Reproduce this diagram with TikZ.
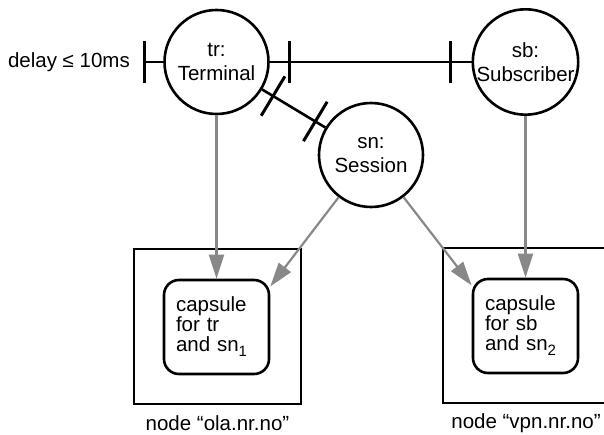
\documentclass[tikz,border=0pt]{standalone}
\usepackage{fontspec}
\setmainfont{Liberation Sans}
\usetikzlibrary{arrows.meta,calc}
\definecolor{deploygray}{HTML}{888888}
\newcommand{\lowsub}[1]{\raisebox{-5pt}{\fontsize{15}{15}\selectfont #1}}
\begin{document}
\begin{tikzpicture}[x=1pt,y=-1pt,
  every node/.style={font=\fontsize{20.5}{24}\selectfont},
  obj/.style={circle,draw,line width=2.6pt,minimum size=104pt,inner sep=0pt,align=center},
  capsulebox/.style={draw,line width=2.6pt,rounded corners=15pt,minimum width=105pt,minimum height=94pt,inner sep=0pt,text width=81pt,align=left,font=\fontsize{20.5}{20}\selectfont},
  hostbox/.style={draw,line width=2.8pt,inner sep=0pt},
  conn/.style={line width=2.6pt},
  tickmark/.style={line width=3pt},
  deploy/.style={draw=deploygray,line width=2.2pt,-{Triangle[length=24pt,width=15pt]}}
]
\useasboundingbox (0,0) rectangle (604,435);

% object circles
\node[obj] (tr) at (216.5,62) {tr:\\Terminal};
\node[obj] (sb) at (525.5,62) {sb:\\Subscriber};
\node[obj] (sn) at (371,155) {sn:\\Session};

% host nodes
\node[hostbox,minimum width=167pt,minimum height=155pt] (hostA) at (217.5,326.5) {};
\node (labA) at (217.5,423) {node “ola.nr.no”};
\coordinate (hostBtl) at (443,248);
\coordinate (hostBbr) at (608,403);
\draw[line width=2.8pt] (hostBbr |- hostBtl) -- (hostBtl) |- (hostBbr);
\node (labB) at (526,423) {node “vpn.nr.no”};

% capsules
\node[capsulebox] (cap1) at (216.5,327) {capsule\\for tr\\and sn\lowsub{1}};
\node[capsulebox] (cap2) at (525.5,326) {capsule\\for sb\\and sn\lowsub{2}};

% delay connector
\node[anchor=east,inner sep=0pt] (delay) at (130,62) {delay ≤ 10ms};
\coordinate (dend) at (144,62);
\draw[conn] (dend) -- (tr);
\draw[tickmark] ($(dend)+(0,-21)$) -- ($(dend)+(0,21)$);

% tr -- sb connector
\draw[conn] (tr) -- (sb);
\coordinate (t1) at ($(tr.east)+(20,0)$);
\coordinate (t2) at ($(sb.west)+(-21,0)$);
\draw[tickmark] ($(t1)+(0,-21)$) -- ($(t1)+(0,21)$);
\draw[tickmark] ($(t2)+(0,-21)$) -- ($(t2)+(0,21)$);

% tr -- sn connector
\draw[conn] (tr) -- (sn);
\coordinate (t3) at ($(tr)!66pt!(sn)$);
\coordinate (t4) at ($(sn)!65pt!(tr)$);
\draw[tickmark] ($(t3)!23pt!90:(sn)$) -- ($(t3)!23pt!-90:(sn)$);
\draw[tickmark] ($(t4)!23pt!90:(tr)$) -- ($(t4)!23pt!-90:(tr)$);

% deployment arrows
\draw[deploy] (tr) -- (cap1);
\draw[deploy] (sb) -- (cap2);
\draw[deploy] (sn) -- (cap1.37);
\draw[deploy] (sn) -- (cap2.143);
\end{tikzpicture}
\end{document}
